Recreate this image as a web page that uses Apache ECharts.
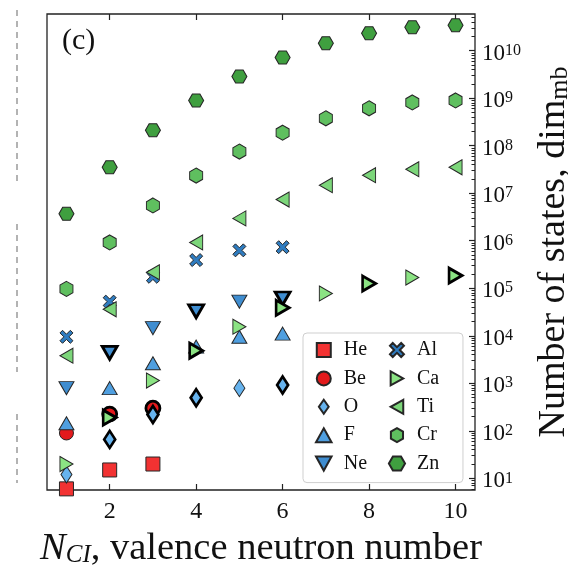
<!DOCTYPE html>
<html>
<head>
<meta charset="utf-8">
<script src="https://cdn.jsdelivr.net/npm/echarts@6/dist/echarts.min.js"></script>
<style>
    html, body { margin: 0; padding: 0; background: #fff; }
    #chart { width: 568px; height: 567px; }
</style>
</head>
<body>
<div id="chart"></div>
<script>
// valence neutron numbers per shell
var nP = [1, 2, 3];
var nSd = [1, 2, 3, 4, 5, 6];
var nFp = [1, 2, 3, 4, 5, 6, 7, 8, 9, 10];

// dim_mb
var dimHe = [6, 15, 20];
var dimBe = [90, 225, 300];
var dimO = [12, 66, 220, 495, 790, 920];
var dimF = [144, 790, 2640, 5900, 9500, 11100];
var dimNe = [790, 4360, 14500, 32700, 52300, 61000];
var dimAl = [9500, 52300, 174000, 392000, 627000, 732000];
var dimCa = [20, 190, 1140, 4850, 15500, 38800, 77500, 126000, 168000, 185000];
var dimTi = [3800, 36100, 217000, 921000, 2.95e6, 7.36e6, 1.47e7, 2.39e7, 3.19e7, 3.51e7];
var dimCr = [9.69e4, 9.21e5, 5.52e6, 2.35e7, 7.51e7, 1.88e8, 3.76e8, 6.10e8, 8.14e8, 8.95e8];
var dimZn = [3.7e6, 3.51e7, 2.11e8, 8.95e8, 2.86e9, 7.16e9, 1.43e10, 2.33e10, 3.10e10, 3.41e10];

// points that carry a thick black outline
var boldBe = [2, 3];
var boldO = [2, 3, 4, 6];
var boldNe = [2, 4, 6];
var boldCa = [2, 4, 6, 8, 10];

var xTicks = [2, 4, 6, 8, 10];
var yTicks = [1e1, 1e2, 1e3, 1e4, 1e5, 1e6, 1e7, 1e8, 1e9, 1e10];

var serif = "'Liberation Serif', 'DejaVu Serif', serif";
var xMin = 0.55, xMax = 10.45;
var yMin = 5.68, yMax = 5.9e10;

var minorTicks = [];
for (var k = 0; k <= 10; k++) {
    for (var m = 2; m <= 9; m++) {
        var v = m * Math.pow(10, k);
        if (v > yMin && v < yMax) minorTicks.push(v);
    }
}

var SYM = {
    square: 'path://M0,0 L10,0 L10,10 L0,10 Z',
    diamond: 'path://M3.5,0 L7,5 L3.5,10 L0,5 Z',
    up: 'path://M5,0 L10,9 L0,9 Z',
    down: 'path://M0,0 L10,0 L5,9 Z',
    right: 'path://M0,0 L9,5 L0,10 Z',
    left: 'path://M9,0 L0,5 L9,10 Z',
    hexTall: 'path://M5,0 L9.33,2.5 L9.33,7.5 L5,10 L0.67,7.5 L0.67,2.5 Z',
    hexWide: 'path://M0,5 L2.5,0.67 L7.5,0.67 L10,5 L7.5,9.33 L2.5,9.33 Z',
    cross: 'path://M2,0 L5,3 L8,0 L10,2 L7,5 L10,8 L8,10 L5,7 L2,10 L0,8 L3,5 L0,2 Z'
};

function makeSeries(name, ns, dims, bold, symbol, size, color) {
    return {
        name: name,
        type: 'scatter',
        symbol: symbol,
        symbolSize: size,
        itemStyle: { color: color, borderColor: '#262626', borderWidth: 1, opacity: 1 },
        emphasis: { disabled: true },
        data: ns.map(function (n, i) {
            var d = { value: [n, dims[i]] };
            if (bold.indexOf(n) >= 0) {
                d.itemStyle = { borderColor: '#000', borderWidth: 2.8 };
            }
            return d;
        })
    };
}

var series = [
    makeSeries('He', nP, dimHe, [], SYM.square, [14, 14], '#f23232'),
    makeSeries('Be', nP, dimBe, boldBe, 'circle', 14, '#e31a1c'),
    makeSeries('O', nSd, dimO, boldO, SYM.diamond, [11, 17], '#66b3ee'),
    makeSeries('F', nSd, dimF, [], SYM.up, [15, 13], '#4f9fe0'),
    makeSeries('Ne', nSd, dimNe, boldNe, SYM.down, [15, 13], '#3f8dd0'),
    makeSeries('Al', nSd, dimAl, [], SYM.cross, [13, 13], '#2f7cc0'),
    makeSeries('Ca', nFp, dimCa, boldCa, SYM.right, [13, 15], '#8be383'),
    makeSeries('Ti', nFp, dimTi, [], SYM.left, [13, 15], '#7cd67a'),
    makeSeries('Cr', nFp, dimCr, [], SYM.hexTall, [13, 15], '#5fbf5f'),
    makeSeries('Zn', nFp, dimZn, [], SYM.hexWide, [15, 13], '#3f9f3f')
];

var dom = document.getElementById('chart');
var myChart = echarts.init(dom, null, { renderer: 'canvas' });

var option = {
    animation: false,
    backgroundColor: '#fff',
    grid: {
        left: 47, right: 93, top: 14, bottom: 77,
        outerBoundsMode: 'none', containLabel: false,
        show: true, borderColor: '#222', borderWidth: 1.3
    },
    legend: {
        orient: 'vertical',
        left: 303, top: 333, height: 155,
        itemGap: 8.4, itemWidth: 30, itemHeight: 14,
        padding: [7, 10, 9, 12],
        backgroundColor: 'rgba(255,255,255,0.85)',
        borderColor: '#cfcfcf', borderWidth: 1, borderRadius: 4,
        selectedMode: false,
        textStyle: { fontFamily: serif, fontSize: 20, lineHeight: 20, color: '#111', width: 36 },
        data: ['He', 'Be', 'O', 'F', 'Ne', 'Al', 'Ca', 'Ti', 'Cr', 'Zn']
    },
    xAxis: [{
        type: 'value', min: xMin, max: xMax, position: 'bottom',
        axisLine: { show: false },
        splitLine: { show: false },
        axisTick: { show: true, inside: true, length: 6, customValues: xTicks, lineStyle: { color: '#222', width: 1.2 } },
        axisLabel: { customValues: xTicks, margin: 10, fontFamily: serif, fontSize: 24, color: '#111' },
        name: '{it|N}{sub|CI}, valence neutron number',
        nameLocation: 'middle', nameGap: 39,
        nameTextStyle: {
            fontFamily: serif, fontSize: 38.5, color: '#111',
            rich: {
                it: { fontFamily: serif, fontSize: 38.5, fontStyle: 'italic', color: '#111' },
                sub: { fontFamily: serif, fontSize: 25, fontStyle: 'italic', color: '#111', lineHeight: 10, verticalAlign: 'bottom' }
            }
        }
    }, {
        type: 'value', min: xMin, max: xMax, position: 'top',
        axisLine: { show: false },
        splitLine: { show: false },
        axisTick: { show: true, inside: true, length: 6, customValues: xTicks, lineStyle: { color: '#222', width: 1.2 } },
        axisLabel: { show: false }
    }],
    yAxis: [{
        type: 'log', min: yMin, max: yMax, position: 'right',
        axisLine: { show: false },
        splitLine: { show: false },
        axisTick: { show: true, inside: true, length: 6, customValues: yTicks, lineStyle: { color: '#222', width: 1.2 } },
        axisLabel: {
            customValues: yTicks, margin: 7, padding: [6, 0, 0, 0],
            formatter: function (val) {
                return '{b|10}{s|' + Math.round(Math.log10(val)) + '}';
            },
            rich: {
                b: { fontFamily: serif, fontSize: 23, color: '#111', lineHeight: 22 },
                s: { fontFamily: serif, fontSize: 16, color: '#111', lineHeight: 4, verticalAlign: 'top' }
            }
        },
        name: 'Number of states, dim{sub|mb}',
        nameLocation: 'middle', nameGap: 60,
        nameTextStyle: {
            fontFamily: serif, fontSize: 38, color: '#111',
            rich: {
                sub: { fontFamily: serif, fontSize: 26, color: '#111', lineHeight: 10, verticalAlign: 'bottom' }
            }
        }
    }, {
        type: 'log', min: yMin, max: yMax, position: 'right',
        axisLine: { show: false },
        splitLine: { show: false },
        axisTick: { show: true, inside: true, length: 3.5, customValues: minorTicks, lineStyle: { color: '#222', width: 1 } },
        axisLabel: { show: false }
    }],
    graphic: [
        {
            type: 'text', left: 62, top: 26,
            style: { text: '(c)', fontFamily: serif, fontSize: 30, fill: '#111' }
        },
        {
            type: 'line',
            shape: { x1: 17, y1: 10, x2: 17, y2: 182 },
            style: { stroke: '#9a9a9a', lineWidth: 1.5, lineDash: [6, 5] }
        },
        {
            type: 'line',
            shape: { x1: 17, y1: 224, x2: 17, y2: 372 },
            style: { stroke: '#9a9a9a', lineWidth: 1.5, lineDash: [6, 5] }
        },
        {
            type: 'line',
            shape: { x1: 17, y1: 414, x2: 17, y2: 483 },
            style: { stroke: '#9a9a9a', lineWidth: 1.5, lineDash: [6, 5] }
        }
    ],
    series: series
};

myChart.setOption(option);
window.addEventListener('resize', myChart.resize);
</script>
</body>
</html>
